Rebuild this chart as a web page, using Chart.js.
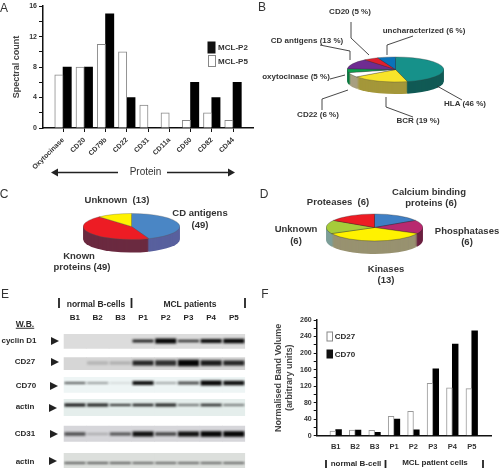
<!DOCTYPE html>
<html><head><meta charset="utf-8">
<script src="https://cdn.jsdelivr.net/npm/chart.js@4"></script>
<style>
html,body{margin:0;padding:0;background:#fff;width:501px;height:470px;overflow:hidden;font-family:"Liberation Sans",Arial,sans-serif}
canvas{position:absolute;display:block}
#ov{position:absolute;left:0;top:0}
.t{position:absolute;white-space:pre;transform:translate(-50%,-50%);color:#333;font-weight:bold;font-size:8px;line-height:1}
.p{font-size:9.5px}
.L{font-size:12px;font-weight:normal;color:#333}
.e{font-size:8px;color:#2a2a2a}
.h{font-size:8.5px;color:#2a2a2a}
</style></head><body>
<canvas id="cA" style="left:0;top:0"></canvas>
<canvas id="cB" style="left:346.5px;top:20.5px"></canvas>
<canvas id="cC" style="left:83px;top:177.5px"></canvas>
<canvas id="cD" style="left:326px;top:178.5px"></canvas>
<canvas id="cE" style="left:0;top:310px"></canvas>
<canvas id="cF" style="left:260px;top:310px"></canvas>
<svg id="ov" width="501" height="470"></svg>
<script>
// Panel A
const proteinCats=['Oxytocinase','CD20','CD79b','CD22','CD31','CD11a','CD50','CD82','CD44'];
const mclP5=[7,8,11,10,3,2,1,2,1];
const mclP2=[8,8,15,4,0,0,6,4,6];
const countTicks=[0,4,8,12,16];
// Panel B
const bLabels=['HLA','BCR','CD22','oxytocinase','CD antigens','CD20','uncharacterized'];
const bValues=[46,19,6,5,13,5,6];
const bTop=['#16918a','#f8e42a','#ffffff','#0e9e4e','#6f2c91','#e01f2e','#0a72ba'];
const bWall=['#115a55','#a4973a','#a89f80','#0a7a3f','#4d1f66','#8a1a24','#0a4f80'];
// Panel C
const cLabels=['CD antigens','Known proteins','Unknown'];
const cValues=[49,49,13];
const cTop=['#4a86c5','#ed1c24','#fff200'];
const cWall=['#58609e','#6b2a40','#a09a30'];
// Panel D
const dLabels=['Calcium binding proteins','Phosphatases','Kinases','Unknown','Proteases'];
const dValues=[6,6,13,6,6];
const dTop=['#3f7fc4','#b8296f','#fff200','#a6cc3a','#ed1c24'];
const dWall=['#38507a','#6b2040','#989270','#7d9e98','#6b2a40'];
// Panel E: blot lanes and relative band strength
const lanes=['B1','B2','B3','P1','P2','P3','P4','P5'];
const blotRows=['cyclin D1','CD27','CD70','actin','CD31','actin'];
const rowCentre=[7,29,49,71,100,129];
const panelSpan=[[0,14.7],[23.3,36],[43,58.7],[65,82],[91.7,107.7],[119,134]];
const panelTone=['#dcdcdc','#d6d6d6','#eef5f5','#e5eeec','#d6d6da','#dcdfdc'];
const strength=[
 [0,0,0,.85,1,.8,.95,.98],
 [0,.18,.2,.85,.8,1,.9,.85],
 [.65,.5,.2,.95,.45,.7,1,.95],
 [.95,.9,.85,.9,.9,.75,.85,.7],
 [.65,.3,.65,.95,.7,.95,1,1],
 [.8,.8,.8,.75,.75,.75,.75,.75]];
const thickness=[
 [0,0,0,3,5,2.5,4,4.5],
 [0,3,3,5,5.5,6.5,5.5,5],
 [2,1.5,1,4,1.5,3,5,4.5],
 [3,3,2,2.5,3,1.5,2.5,1.5],
 [3.5,1.5,3,5,3.5,5,5.5,5.5],
 [1.5,1.5,1.5,1.5,1.5,1.5,1.5,1.5]];
// Panel F
const patientCats=['B1','B2','B3','P1','P2','P3','P4','P5'];
const cd27=[11,13.5,13,47,59,127,116,114];
const cd70=[15,13.5,8,40,14,162,222,254];
const volumeTicks=['0','40','80','120','160','200','240','260'];

Chart.defaults.font.family='"Liberation Sans",Arial,sans-serif';
Chart.defaults.animation=false;
Chart.defaults.responsive=false;
Chart.defaults.plugins.legend.display=false;
Chart.defaults.plugins.tooltip.enabled=false;
function size(id,w,h){const c=document.getElementById(id);c.width=w;c.height=h;return c;}

function barOpts(cats,xmin,xmax,ymax,step,ylabel,title,pad,titlePad,leftW,botH,xfont,rot,tickLen,xpad,blen){
 return {
  layout:{autoPadding:false,padding:pad},
  scales:{
   x:{type:'linear',min:xmin,max:xmax,offset:false,
      grid:{offset:false,display:true,drawOnChartArea:false,drawTicks:tickLen>0,tickLength:tickLen,color:'#111'},
      border:{display:true,color:'#111',width:1.5},
      afterBuildTicks:s=>{s.ticks=cats.map((_,i)=>({value:i+1}));},
      afterFit:s=>{s.height=botH;},
      ticks:{autoSkip:false,maxRotation:rot,minRotation:rot,padding:xpad,color:'#333',font:{size:xfont,weight:'bold'},callback:v=>cats[v-1]}},
   y:{min:0,max:ymax,
      grid:{display:true,drawOnChartArea:false,drawTicks:true,tickLength:blen,color:'#111'},
      border:{display:true,color:'#111',width:1.5},
      afterBuildTicks:s=>{const a=[];for(let v=0;v<=ymax;v+=step)a.push({value:v});s.ticks=a;},
      afterFit:s=>{s.width=leftW;},
      title:{display:true,text:title,color:'#444',font:{size:titlePad.size,weight:'bold'},padding:{top:titlePad.top,bottom:0},lineHeight:1.15},
      ticks:{autoSkip:false,padding:2,color:'#333',font:{size:7,weight:'bold'},callback:ylabel}}
  }};
}

new Chart(size('cA',260,170),{type:'bar',
 data:{datasets:[
  {label:'MCL-P5',data:mclP5.map((y,i)=>({x:i+1,y})),backgroundColor:'#fff',borderColor:'#888',borderWidth:1,barThickness:8.3},
  {label:'MCL-P2',data:mclP2.map((y,i)=>({x:i+1,y})),backgroundColor:'#000',borderWidth:0,barThickness:8.3}]},
 options:barOpts(proteinCats,0.057,9.94,16,2,v=>countTicks.includes(v)?String(v):'','Spectral count',
  {top:6,right:7,left:0,bottom:0},{size:9,top:11},43,42,7,45,4,4,4)});

new Chart(size('cF',241,150),{type:'bar',
 data:{datasets:[
  {label:'CD27',data:cd27.map((y,i)=>({x:i+1,y})),backgroundColor:'#fff',borderColor:'#999',borderWidth:1,barThickness:5.8},
  {label:'CD70',data:cd70.map((y,i)=>({x:i+1,y})),backgroundColor:'#000',borderWidth:0,barThickness:5.8}]},
 options:barOpts(patientCats,0.022,8.99,280,20,v=>v%40===0?volumeTicks[v/40]:'',['Normalised Band Volume','(arbitrary units)'],
  {top:10,right:10,left:0,bottom:0},{size:9,top:13},56.7,24.3,7.5,0,0,7,3)});

// squashed pie with a side wall, drawn from the arc elements of the chart
const pie3d={id:'pie3d',
 beforeDatasetsDraw(chart,_,o){
  const ctx=chart.ctx,arcs=chart.getDatasetMeta(0).data;
  const {x,y}=arcs[0],sq=o.squash;
  for(let d=o.depth;d>=1;d--){
   arcs.forEach((a,i)=>{
    ctx.save();ctx.translate(x,y+d);ctx.scale(1,sq);
    ctx.beginPath();ctx.moveTo(0,0);ctx.arc(0,0,a.outerRadius,a.startAngle,a.endAngle);ctx.closePath();
    ctx.fillStyle=o.walls[i];ctx.fill();ctx.restore();
   });
  }
  ctx.save();ctx.translate(x,y);ctx.scale(1,sq);ctx.translate(-x,-y);
 },
 afterDatasetsDraw(chart){chart.ctx.restore();}
};
function pie(id,labels,values,top,walls,squash,depth,line){
 new Chart(size(id,97,97),{type:'pie',plugins:[pie3d],
  data:{labels,datasets:[{data:values,backgroundColor:top,borderColor:line,borderWidth:0.5,clip:false}]},
  options:{layout:{autoPadding:false,padding:0},plugins:{pie3d:{squash,depth,walls}}}});
}
pie('cB',bLabels,bValues,bTop,bWall,0.26,12,'#333');
pie('cC',cLabels,cValues,cTop,cWall,0.27,13,'#555');
pie('cD',dLabels,dValues,dTop,dWall,0.28,13,'#222');

// Blot: gel strips and blurred bands as floating bars
const blotDatasets=[];
blotRows.forEach((r,i)=>{
 blotDatasets.push({label:r+' strip',order:2,grouped:false,barPercentage:1.03,categoryPercentage:1,backgroundColor:panelTone[i],
  data:lanes.map(()=>panelSpan[i])});
});
blotRows.forEach((r,i)=>{
 blotDatasets.push({label:r+' band',band:true,order:1,grouped:false,barPercentage:.93,categoryPercentage:1,
  backgroundColor:lanes.map((_,j)=>'rgba(5,5,5,'+strength[i][j]+')'),
  data:lanes.map((_,j)=>thickness[i][j]>0?[rowCentre[i]-thickness[i][j]/2,rowCentre[i]+thickness[i][j]/2]:null)});
});
const blur={id:'blur',
 beforeDatasetDraw(c,a){if(c.data.datasets[a.index].band)c.ctx.filter='blur(1px)';},
 afterDatasetDraw(c){c.ctx.filter='none';}};
new Chart(size('cE',250,158),{type:'bar',plugins:[blur],
 data:{labels:lanes,datasets:blotDatasets},
 options:{layout:{autoPadding:false,padding:{left:63.6,right:4.3,top:0,bottom:0}},
  scales:{
   x:{position:'top',grid:{display:false,drawTicks:false},border:{display:false},afterFit:s=>{s.height=24;},
      ticks:{padding:11,color:'#222',font:{size:8,weight:'bold'},autoSkip:false,maxRotation:0}},
   y:{display:false,reverse:true,min:0,max:134}}}});

// Text and annotations
function txt(s,x,y,cls,extra){const d=document.createElement('div');d.className='t '+(cls||'');d.textContent=s;d.style.left=x+'px';d.style.top=y+'px';if(extra)d.style.cssText+=extra;document.body.appendChild(d);}
[['A',4,8],['B',262,7],['C',4,194],['D',264,194],['E',5,294],['F',265,294]].forEach(a=>txt(a[0],a[1],a[2],'L'));
txt('MCL-P2',233,48,'',' font-size:8px');txt('MCL-P5',233,62,'',' font-size:8px');
txt('Protein',145.5,172,'',' font-size:10px;font-weight:normal');
[['CD20 (5 %)',350,12],['uncharacterized (6 %)',424,31],['CD antigens (13 %)',307,41],['oxytocinase (5 %)',296,77],['CD22 (6 %)',318,115],['BCR (19 %)',418,121],['HLA (46 %)',465,104]].forEach(a=>txt(a[0],a[1],a[2]));
[['Unknown  (13)',117,200],['CD antigens',200,213],['(49)',200,225],['Known',79,256],['proteins (49)',82,267],['Proteases  (6)',338,202],['Calcium binding',429,192],['proteins (6)',431,203],['Phosphatases',467,231],['(6)',467,242],['Unknown',296,229],['(6)',296,241],['Kinases',386,269],['(13)',386,280]].forEach(a=>txt(a[0],a[1],a[2],'p'));
txt('normal B-cells',96,304,'h');txt('MCL patients',190,304,'h');
txt('W.B.',25,324,'e',' text-decoration:underline;font-size:8.5px');
[['cyclin D1',19,341],['CD27',25,362],['CD70',26,386],['actin',25,407],['CD31',25,433.7],['actin',25,462]].forEach(a=>txt(a[0],a[1],a[2],'e'));
txt('CD27',345,337,'e');txt('CD70',345,355,'e');
txt('normal B-cell',356,464,'h',' font-size:8px');txt('MCL patient cells',435,463,'h',' font-size:8px');

const NS='http://www.w3.org/2000/svg',ov=document.getElementById('ov');
function el(n,a){const e=document.createElementNS(NS,n);for(const k in a)e.setAttribute(k,a[k]);ov.appendChild(e);}
[[208,42,7,11,'#111','#111'],[208.5,55.5,7,11,'#fff','#888'],[327,332,5.5,9,'#fff','#888'],[327,350,5.5,8,'#111','#111']].forEach(r=>el('rect',{x:r[0],y:r[1],width:r[2],height:r[3],fill:r[4],stroke:r[5],'stroke-width':1}));
['351,22 351,38 369,55','413,36 387,45 387,55','320,45 350,51 350,60','330,79 345,75','322,110 322,99 348,90','386,97 386,107 413,117','437,86 462,100'].forEach(p=>el('polyline',{points:p,fill:'none',stroke:'#333','stroke-width':0.9}));
el('line',{x1:58,y1:172.5,x2:118,y2:172.5,stroke:'#222','stroke-width':1.5});
el('line',{x1:167,y1:172.5,x2:228,y2:172.5,stroke:'#222','stroke-width':1.5});
el('polygon',{points:'51,172.5 58,168.5 58,176.5',fill:'#222'});
el('polygon',{points:'235,172.5 228,168.5 228,176.5',fill:'#222'});
[[59,298,308],[131.5,298,308],[245,298,308],[326,460,468],[385.5,460,468],[483,460,468]].forEach(b=>el('line',{x1:b[0],y1:b[1],x2:b[0],y2:b[2],stroke:'#222','stroke-width':1.8}));
[[51,341],[51,362],[50,386],[49,408],[50,434],[49,461]].forEach(t=>el('polygon',{points:t[0]+','+(t[1]-4)+' '+(t[0]+8)+','+t[1]+' '+t[0]+','+(t[1]+4),fill:'#222'}));
</script>
</body></html>
